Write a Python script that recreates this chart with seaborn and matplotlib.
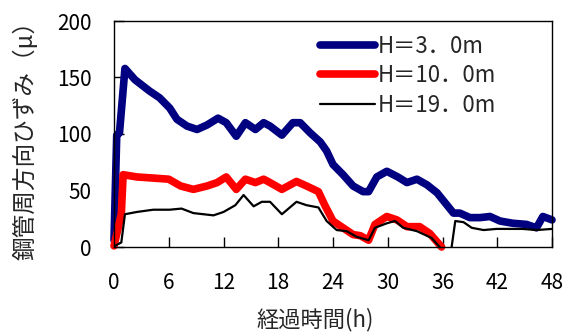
import numpy as np
import pandas as pd
import matplotlib
matplotlib.use('Agg')
import matplotlib.pyplot as plt
import seaborn as sns

sns.set_theme(style="white")
plt.rcParams['font.family'] = ['Noto Sans CJK JP', 'DejaVu Sans']

# H=3.0m
x_h3 = [0, 0.3, 0.6, 1.2, 2.3, 3.9, 5.0, 6.1, 6.9, 8.0, 9.1, 10.2, 11.4, 12.3, 13.4,
        14.4, 15.5, 16.4, 17.1, 18.4, 19.6, 20.4, 21.5, 22.6, 23.3, 24.0, 25.1, 26.2,
        27.3, 27.9, 28.8, 29.9, 31.1, 32.1, 33.2, 34.3, 35.4, 36.5, 37.2, 37.9, 39.0,
        40.1, 41.2, 42.3, 43.7, 45.2, 46.3, 47.0, 48.0]
y_h3 = [6, 99, 101, 158, 148, 138, 132, 123, 113, 107, 104, 108, 114, 110, 98,
        110, 104, 110, 107, 99, 110, 110, 101, 93, 85, 73, 64, 54,
        49, 49, 62, 67, 62, 57, 60, 55, 48, 37, 30, 30, 26,
        26, 27, 23, 21, 20, 17, 27, 24]

# H=10.0m
x_h10 = [0, 0.8, 1.0, 2.5, 4.3, 6.0, 7.3, 8.7, 10.2, 11.3, 12.3, 13.4, 14.4, 15.5,
         16.4, 17.1, 18.4, 20.0, 21.1, 22.4, 23.1, 24.0, 25.1, 26.2, 27.0, 27.9,
         28.6, 29.9, 31.0, 32.1, 33.5, 34.6, 35.9]
y_h10 = [1, 29, 64, 62, 61, 60, 54, 51, 54, 57, 62, 51, 60, 57,
         60, 57, 51, 58, 54, 49, 37, 23, 17, 11, 10, 6,
         20, 27, 24, 18, 18, 12, 0]

# H=19.0m
x_h19 = [0.1, 0.8, 1.2, 2.5, 4.3, 6.1, 7.4, 8.7, 9.8, 10.9, 12.0, 13.3, 14.2, 15.3,
         16.2, 17.1, 18.4, 20.0, 21.1, 22.4, 23.3, 24.4, 25.5, 26.6, 27.9, 28.6,
         29.9, 30.8, 31.7, 33.2, 34.8, 35.7, 36.4, 37.0, 37.4, 38.3, 39.2, 40.5,
         41.9, 43.4, 44.8, 46.3, 48.0]
y_h19 = [1, 4, 29, 31, 33, 33, 34, 30, 29, 28, 31, 37, 46, 36,
         40, 40, 29, 40, 37, 35, 23, 15, 14, 9, 6, 17,
         21, 23, 17, 14, 8, 0, np.nan, 0, 23, 22, 17, 15,
         16, 16, 16, 15, 16]

labels = ['H＝3．0m', 'H＝10．0m', 'H＝19．0m']
x_ticks = [0, 6, 12, 18, 24, 30, 36, 42, 48]
y_ticks = [0, 50, 100, 150, 200]

fig = plt.figure(figsize=(5.72, 3.36), dpi=100)
ax = fig.add_axes([114 / 572, 1 - 247 / 336, 438 / 572, 226 / 336])

df3 = pd.DataFrame({'t': x_h3, 'v': y_h3})
df10 = pd.DataFrame({'t': x_h10, 'v': y_h10})
df19 = pd.DataFrame({'t': x_h19, 'v': y_h19})

sns.lineplot(data=df3, x='t', y='v', ax=ax, color='#000080', lw=5.5,
             solid_capstyle='round', solid_joinstyle='round',
             label=labels[0], sort=False, clip_on=False)
sns.lineplot(data=df10, x='t', y='v', ax=ax, color='#ff0000', lw=5.5,
             solid_capstyle='round', solid_joinstyle='round',
             label=labels[1], sort=False, clip_on=False)
ax.plot(df19['t'], df19['v'], color='black', lw=1.6, label=labels[2], clip_on=False)

ax.set_xlim(0, 48)
ax.set_ylim(0, 200)
ax.set_xticks(x_ticks)
ax.set_yticks(y_ticks)
ax.tick_params(axis='both', direction='in', length=7, width=1, colors='black',
               labelsize=15)
ax.tick_params(axis='x', bottom=True, pad=18)
ax.tick_params(axis='y', left=True, pad=16)
for s in ax.spines.values():
    s.set_color('black')
    s.set_linewidth(1)

ax.set_xlabel('経過時間(h)', fontsize=16)
ax.set_ylabel('鋼管周方向ひずみ（μ）', fontsize=17)
ax.xaxis.set_label_coords(0.46, -0.27)
ax.yaxis.set_label_coords(-0.175, 0.5)

leg = ax.legend(loc='upper left', frameon=False, fontsize=16,
                handlelength=2.5, handletextpad=0.1, labelspacing=0.3,
                borderaxespad=0, borderpad=0, bbox_to_anchor=(0.47, 0.94))

plt.savefig('out.png', dpi=100)
plt.close()
